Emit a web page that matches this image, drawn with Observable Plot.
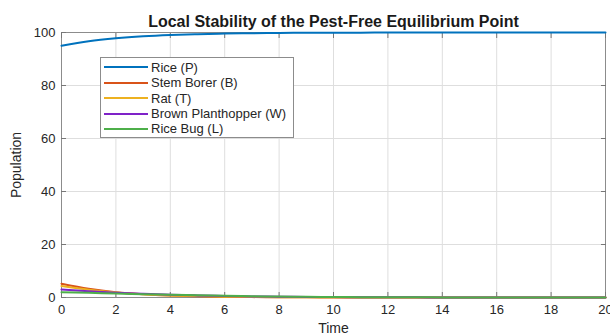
<!DOCTYPE html>
<html><head><meta charset="utf-8">
<script src="https://cdn.jsdelivr.net/npm/d3@7"></script>
<script src="https://cdn.jsdelivr.net/npm/@observablehq/plot@0.6"></script>
<style>
html,body{margin:0;padding:0;background:#fff;}
#wrap{position:relative;width:610px;height:335px;font-family:"Liberation Sans",Arial,sans-serif;}
#wrap svg{display:block;}
.legend{position:absolute;left:100px;top:57px;width:194px;height:81px;border:1px solid #8c8c8c;background:#fff;box-sizing:border-box;}
.lgline{position:absolute;height:2px;width:44px;left:104px;}
.lgtext{position:absolute;left:151px;font-size:13px;line-height:15px;color:#262626;white-space:nowrap;}
</style></head><body><div id="wrap"></div>
<script>
const title = "Local Stability of the Pest-Free Equilibrium Point";
const xLabel = "Time";
const yLabel = "Population";
const xTicks = [0, 2, 4, 6, 8, 10, 12, 14, 16, 18, 20];
const yTicks = [0, 20, 40, 60, 80, 100];
const seriesNames = ["Rice (P)", "Stem Borer (B)", "Rat (T)", "Brown Planthopper (W)", "Rice Bug (L)"];
const seriesColors = ["#0072BD", "#D95319", "#EDB120", "#7F22C8", "#4DAF4A"];
const time = [0, 1, 2, 3, 4, 5, 6, 7, 8, 9, 10, 11, 12, 13, 14, 15, 16, 17, 18, 19, 20];
const rice = [95.0, 96.7, 97.8, 98.55, 99.05, 99.38, 99.6, 99.74, 99.83, 99.89, 99.93, 99.95, 99.97, 99.98, 99.99, 99.99, 100, 100, 100, 100, 100];
const stemBorer = [5.2, 3.3, 2.0, 1.2, 0.72, 0.43, 0.26, 0.15, 0.09, 0.05, 0.03, 0.02, 0.01, 0.01, 0, 0, 0, 0, 0, 0, 0];
const rat = [4.3, 2.9, 1.9, 1.25, 0.8, 0.52, 0.33, 0.21, 0.13, 0.08, 0.05, 0.03, 0.02, 0.01, 0.01, 0, 0, 0, 0, 0, 0];
const brownPlanthopper = [3.0, 2.35, 1.8, 1.38, 1.05, 0.78, 0.58, 0.42, 0.3, 0.21, 0.15, 0.1, 0.07, 0.05, 0.03, 0.02, 0.01, 0.01, 0, 0, 0];
const riceBug = [2.0, 1.75, 1.5, 1.25, 1.02, 0.82, 0.64, 0.48, 0.36, 0.26, 0.18, 0.13, 0.09, 0.06, 0.04, 0.03, 0.02, 0.01, 0.01, 0, 0];

const seriesValues = [rice, stemBorer, rat, brownPlanthopper, riceBug];
const rows = [];
seriesValues.forEach((vals, s) => vals.forEach((v, i) => rows.push({t: time[i], v, s: seriesNames[s]})));

const lineMarks = seriesNames.map((name, s) =>
  Plot.line(rows.filter(d => d.s === name), {x: "t", y: "v", stroke: seriesColors[s], strokeWidth: 2, curve: "monotone-x"})
);

const chart = Plot.plot({
  width: 610, height: 335,
  marginLeft: 61, marginRight: 5, marginTop: 32, marginBottom: 38,
  x: {domain: [0, 20]},
  y: {domain: [0, 100]},
  style: {fontFamily: "'Liberation Sans', Arial, sans-serif", fontSize: "13px", color: "#262626", background: "#fff"},
  marks: [
    Plot.gridX(xTicks, {stroke: "#dedede", strokeOpacity: 1}),
    Plot.gridY(yTicks, {stroke: "#dedede", strokeOpacity: 1}),
    Plot.frame({stroke: "#8c8c8c"}),
    Plot.axisX(xTicks, {tickSize: -5, tickPadding: 12, stroke: "#777", label: xLabel, labelAnchor: "center", labelArrow: "none", labelOffset: 35, fontSize: 13}),
    Plot.axisX(xTicks, {anchor: "top", tickSize: -5, stroke: "#777", tickFormat: () => "", label: null}),
    Plot.axisY(yTicks, {tickSize: -5, tickPadding: 11, stroke: "#777", label: yLabel, labelAnchor: "center", labelArrow: "none", labelOffset: 50}),
    Plot.axisY(yTicks, {anchor: "right", tickSize: -5, stroke: "#777", tickFormat: () => "", label: null}),
    ...lineMarks,
    Plot.text([title], {frameAnchor: "top", lineAnchor: "middle", dy: -10.5, fontWeight: "bold", fontSize: 16, fill: "#1a1a1a"})
  ]
});
const wrap = document.getElementById("wrap");
wrap.appendChild(chart);
chart.querySelectorAll("[aria-label$='axis label'] text").forEach(t => t.setAttribute("font-size", 14));

const legend = document.createElement("div");
legend.className = "legend";
wrap.appendChild(legend);
seriesNames.forEach((name, i) => {
  const cy = 67.3 + i * 15.4;
  const ln = document.createElement("div");
  ln.className = "lgline";
  ln.style.top = (cy - 1) + "px";
  ln.style.background = seriesColors[i];
  wrap.appendChild(ln);
  const tx = document.createElement("div");
  tx.className = "lgtext";
  tx.style.top = (cy - 7.5) + "px";
  tx.textContent = name;
  wrap.appendChild(tx);
});
</script>
</body></html>
